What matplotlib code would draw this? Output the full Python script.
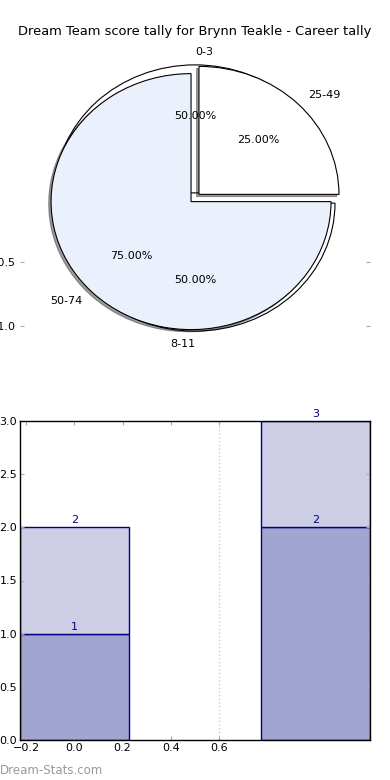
import matplotlib
matplotlib.use("Agg")
import matplotlib.pyplot as plt

# pie data
outer_labels = ["25-49", "50-74"]
outer_values = [25, 75]
inner_labels = ["0-3", "8-11"]
inner_values = [50, 50]

# bar data
bar_x = [0, 1]
bar_low = [1, 2]
bar_high = [1, 1]
xtick_vals = [-0.2, 0.0, 0.2, 0.4, 0.6]

TITLE = "Dream Team score tally for Brynn Teakle - Career tally"

fig = plt.figure(figsize=(3.9, 7.8), dpi=100)

# [PIE]
ax1 = fig.add_axes([20 / 390, 1 - 358 / 780, 350 / 390, 320 / 780])
w_in, t_in, a_in = ax1.pie(inner_values, labels=inner_labels, autopct="%.2f%%",
                           startangle=0, explode=(0.04, 0.04),
                           colors=["white", "white"],
                           wedgeprops=dict(fill=False, edgecolor="black", linewidth=0.8),
                           textprops=dict(fontsize=8))
t_in[0].set_ha("left")
t_in[1].set_ha("right")
ax1.pie(outer_values, labels=outer_labels, autopct="%.2f%%", startangle=0,
        explode=(0.04, 0.04), colors=["white", "#eaf0fc"],
        shadow=dict(ox=-0.012, oy=-0.012, shade=0.75),
        wedgeprops=dict(edgecolor="black", linewidth=0.8),
        textprops=dict(fontsize=8))
ax1.set_aspect("auto")
ax1.set_xlim(-1.25, 1.25)
ax1.set_ylim(-1.25, 1.25)
ax1.set_frame_on(False)
ax1.set_xticks([])
ax1.set_yticks([-1.0, -0.5])
ax1.tick_params(axis="y", direction="in", length=3, color="#aaaaaa",
                left=True, right=True, labelsize=8, pad=3)
ax1.set_title(TITLE, fontsize=9.4, pad=2)

# [BARS]
ax2 = fig.add_axes([20 / 390, 40 / 780, 350 / 390, 319 / 780])
dark = "#a3a5d1"
light = "#cdcde6"
navy = "#000080"
ax2.bar(bar_x, bar_low, width=0.45, color=dark, edgecolor=navy, linewidth=1)
tops = [l + h for l, h in zip(bar_low, bar_high)]
ax2.bar(bar_x, bar_high, width=0.45, bottom=bar_low, color=light,
        edgecolor=navy, linewidth=1)
for x, l, t in zip(bar_x, bar_low, tops):
    ax2.text(x, l + 0.02, str(l), ha="center", va="bottom", fontsize=8, color=navy)
    ax2.text(x, t + 0.02, str(t), ha="center", va="bottom", fontsize=8, color=navy)
ax2.axvline(0.6, color="#cccccc", linestyle=":", linewidth=1, zorder=0)
ax2.set_xlim(-0.225, 1.225)
ax2.set_ylim(0, 3.0)
ax2.set_xticks(xtick_vals)
ax2.set_yticks([0, 0.5, 1.0, 1.5, 2.0, 2.5, 3.0])
ax2.tick_params(direction="in", length=3, color="#aaaaaa", top=True, right=True,
                labelsize=8, pad=2)
for s in ax2.spines.values():
    s.set_linewidth(1)

fig.text(0.0, 3 / 780, "Dream-Stats.com", fontsize=8.5, color="#999999",
         ha="left", va="bottom")

fig.savefig("out.png", dpi=100)
